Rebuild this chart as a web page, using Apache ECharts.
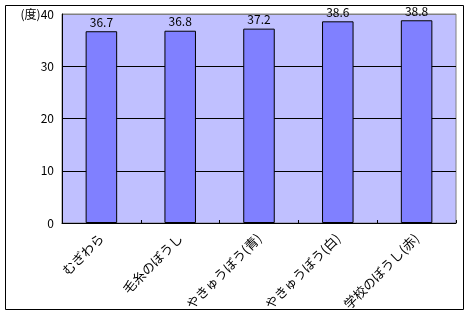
<!DOCTYPE html>
<html><head><meta charset="utf-8">
<script src="https://cdn.jsdelivr.net/npm/echarts@6/dist/echarts.min.js"></script>
<style>html,body{margin:0;padding:0;background:#fff}#c{width:471px;height:315px}</style>
</head><body><div id="c"></div>
<script>
const categories = ['むぎわら', '毛糸のぼうし', 'やきゅうぼう(青)', 'やきゅうぼう(白)', '学校のぼうし(赤)'];
const values = [36.7, 36.8, 37.2, 38.6, 38.8];
const yTicks = [0, 10, 20, 30, 40];
const yUnit = '(度)';

const chart = echarts.init(document.getElementById('c'), null, {renderer: 'canvas'});
const font = '"Noto Sans CJK JP", "Noto Sans", sans-serif';
chart.setOption({
  animation: false,
  backgroundColor: '#fff',
  graphic: [{
    type: 'rect', left: 5, top: 5, z: -10,
    shape: {width: 458, height: 304},
    style: {fill: '#fff', stroke: '#000', lineWidth: 1}
  }],
  grid: {left: 62, right: 15, top: 14, bottom: 92, show: true,
         backgroundColor: '#C0C0FF', borderColor: '#808080', borderWidth: 1},
  xAxis: {
    type: 'category', data: categories,
    axisLine: {lineStyle: {color: '#000', width: 1}},
    axisTick: {show: true, inside: true, length: 3, lineStyle: {color: '#000'}},
    axisLabel: {rotate: 45, margin: 13, fontSize: 13, color: '#000', fontFamily: font}
  },
  yAxis: {
    type: 'value', min: yTicks[0], max: yTicks[yTicks.length - 1], interval: 10,
    axisLine: {show: true, lineStyle: {color: '#000', width: 1}},
    axisTick: {show: false},
    splitLine: {show: true, lineStyle: {color: ['#000', '#000', '#000', '#000', '#808080'], width: 1}},
    axisLabel: {margin: 8, fontSize: 12, color: '#000', fontFamily: font,
      formatter: v => v === 40 ? yUnit + v : String(v)}
  },
  series: [{
    type: 'bar', data: values, barWidth: '40%',
    itemStyle: {color: '#8080FF', borderColor: '#000', borderWidth: 1},
    label: {show: true, position: 'top', distance: 3, fontSize: 12, color: '#000', fontFamily: font,
      formatter: p => p.value.toFixed(1)}
  }]
});
</script></body></html>
